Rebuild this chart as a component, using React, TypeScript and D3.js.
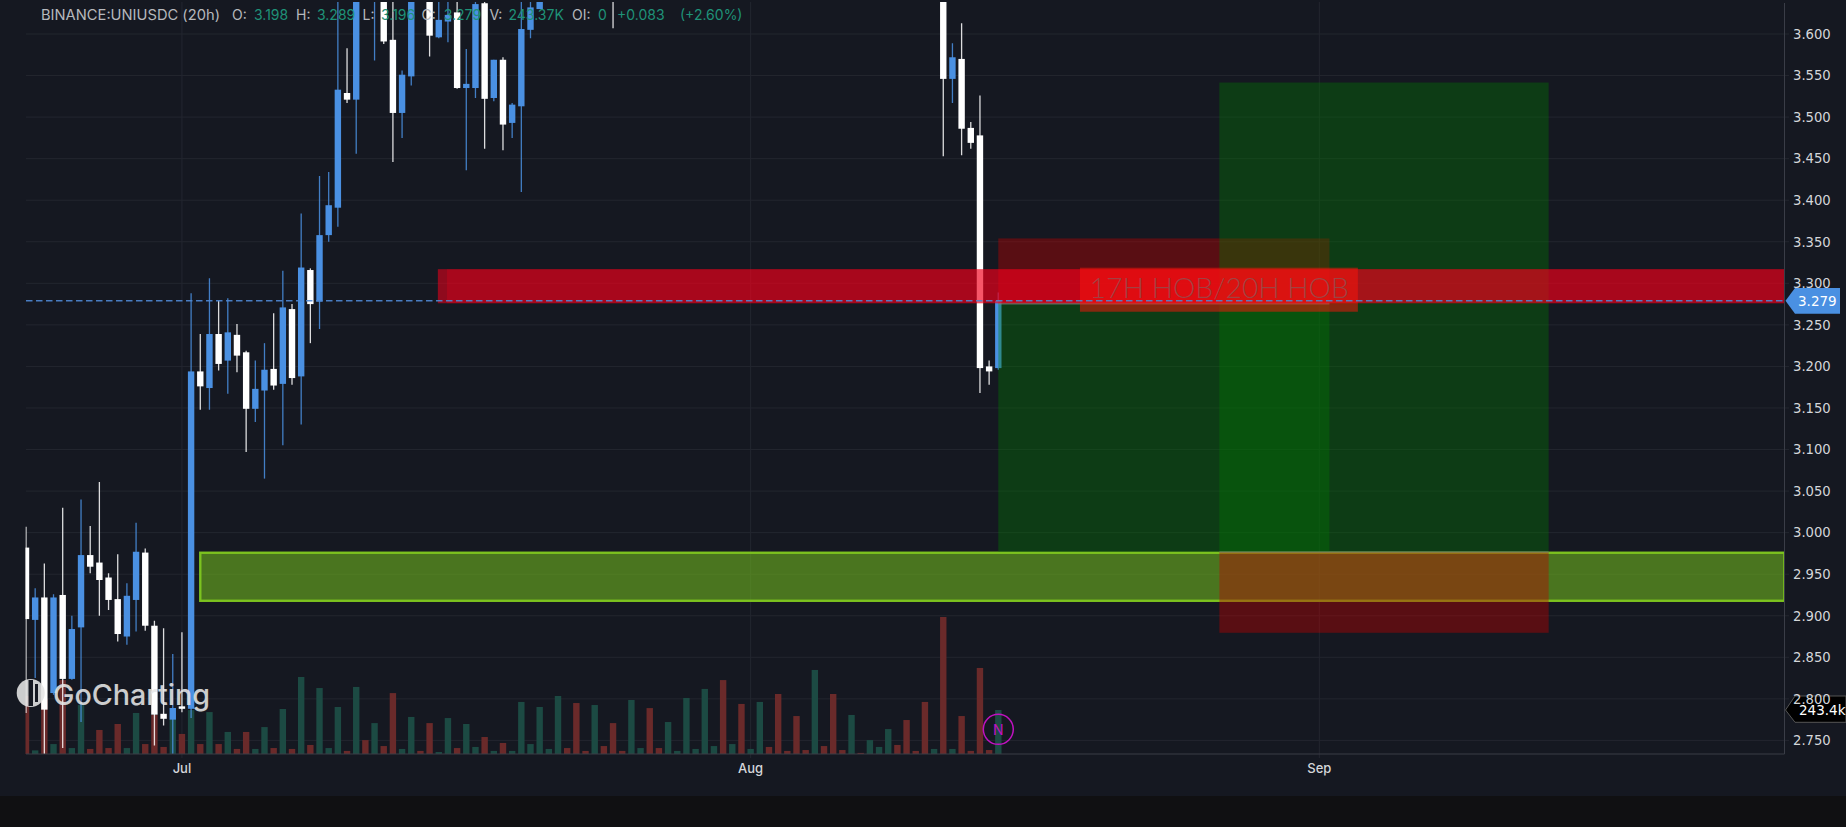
import React from 'react';
import * as d3 from 'd3';

const N = null;
const opens = [2.982,2.895,2.922,2.807,2.925,2.824,2.886,2.973,2.964,2.946,2.920,2.875,2.919,2.976,2.888,2.782,2.775,2.791,2.788,3.194,3.174,3.239,3.207,3.238,3.217,3.149,3.171,3.197,3.179,3.269,3.188,3.316,3.278,3.358,3.391,3.529,3.521,N,3.650,3.660,3.593,3.505,3.549,N,3.660,3.596,3.615,3.626,3.535,3.535,3.637,3.523,3.569,3.493,3.513,3.605,3.630,
  N,N,N,N,N,N,N,3.670,N,N,N,N,N,N,N,N,N,N,N,N,N,N,N,N,N,N,N,N,N,N,N,N,N,N,N,N,N,N,N,N,N,N,N,
  3.660,3.546,3.570,3.487,3.478,3.200,3.198];
const highs = [3.007,2.933,2.963,2.926,3.030,2.900,3.040,3.008,3.061,2.951,2.974,2.939,3.012,2.981,2.894,2.885,2.854,2.880,3.288,3.239,3.306,3.279,3.282,3.251,3.219,3.207,3.228,3.264,3.315,3.275,3.384,3.318,3.429,3.434,3.660,3.583,3.680,N,3.700,3.680,3.650,3.556,3.680,N,3.680,3.650,3.650,3.650,3.582,3.650,3.650,3.569,3.572,3.517,3.650,3.650,3.660,
  N,N,N,N,N,N,N,3.680,N,N,N,N,N,N,N,N,N,N,N,N,N,N,N,N,N,N,N,N,N,N,N,N,N,N,N,N,N,N,N,N,N,N,N,
  3.680,3.589,3.613,3.494,3.526,3.207,3.289];
const lows = [2.783,2.825,2.732,2.805,2.741,2.823,2.772,2.951,2.900,2.907,2.869,2.865,2.881,2.882,2.744,2.768,2.732,2.784,2.777,3.148,3.148,3.195,3.167,3.193,3.097,3.133,3.065,3.172,3.105,3.178,3.130,3.228,3.245,3.350,3.368,3.517,3.456,N,3.568,3.588,3.446,3.475,3.538,N,3.573,3.595,3.590,3.534,3.436,3.523,3.462,3.519,3.460,3.475,3.410,3.595,3.630,
  N,N,N,N,N,N,N,3.607,N,N,N,N,N,N,N,N,N,N,N,N,N,N,N,N,N,N,N,N,N,N,N,N,N,N,N,N,N,N,N,N,N,N,N,
  3.453,3.517,3.454,3.462,3.168,3.178,3.196];
const closes = [2.896,2.922,2.787,2.922,2.824,2.884,2.973,2.959,2.943,2.919,2.878,2.924,2.977,2.888,2.781,2.776,2.789,2.788,3.194,3.176,3.239,3.203,3.241,3.213,3.149,3.173,3.196,3.177,3.271,3.186,3.319,3.275,3.358,3.394,3.533,3.521,3.660,N,3.690,3.591,3.505,3.551,3.660,N,3.598,3.617,3.623,3.535,3.540,3.636,3.522,3.569,3.491,3.515,3.606,3.632,3.640,
  N,N,N,N,N,N,N,3.645,N,N,N,N,N,N,N,N,N,N,N,N,N,N,N,N,N,N,N,N,N,N,N,N,N,N,N,N,N,N,N,N,N,N,N,
  3.546,3.572,3.486,3.469,3.198,3.194,3.279];

const volumes = [321,20,304,55,409,33,271,28,133,33,166,33,227,55,216,39,194,111,243,55,232,55,122,28,122,28,149,33,249,28,426,50,365,33,260,17,371,77,171,44,337,28,205,17,171,11,199,33,166,39,94,17,61,17,288,55,260,28,321,33,282,17,271,44,171,17,299,33,254,33,177,17,310,28,360,44,409,55,277,28,288,39,332,17,210,22,465,44,332,22,216,6,77,39,138,50,188,17,288,28,758,28,210,17,476,22,243.4];
const volumeUp = [0,1,0,1,0,1,1,0,0,0,0,1,1,0,0,0,1,0,1,0,1,0,1,0,0,1,1,0,1,0,1,0,1,1,1,0,1,0,1,0,0,1,1,0,0,1,1,0,1,1,0,1,0,1,1,1,1,1,1,0,0,0,1,0,0,0,1,1,0,0,1,1,1,1,1,1,0,1,0,1,1,0,0,0,0,0,1,0,0,0,1,0,1,1,1,0,0,0,0,1,0,1,0,0,0,0,1];

const priceTicks = [3.6,3.55,3.5,3.45,3.4,3.35,3.3,3.25,3.2,3.15,3.1,3.05,3.0,2.95,2.9,2.85,2.8,2.75];
const monthLabels = ['Jul','Aug','Sep'];
const monthIndex = [17,79,141];

const supplyZone = [3.276,3.317];
const demandZone = [2.918,2.9758];
const hobLabel = [3.2658,3.3188];
const longA = {stop:3.354,entry:3.2757,target:2.977};
const longB = {target:3.5416,entry:2.9766,stop:2.8795};

const headerLabels = [['O:',232],['H:',296],['L:',362.6],['C:',421.5],['V:',489.5],['OI:',572]];
const headerValues = [['3.198',254],['3.289',317],['3.196',381],['3.279',443.7],['243.37K',508.5],['0',598],['+0.083',617],['(+2.60%)',680]];

const W = 1846, H = 827;
const L = 25.5, R = 1784.5, T = 2, B = 754;
const x = d3.scaleLinear().domain([0,106]).range([26,998.3]);
const y = d3.scaleLinear().domain([2.75,3.6]).range([740.4,34]);
const vh = d3.scaleLinear().domain([0,800]).range([B,B-144.6]);

const BLUE = '#4a90e2';
const UPV = '#1c4a43', DNV = '#6a2a2a';
const rectP = (i0:number,i1:number,p0:number,p1:number)=>({x:x(i0),width:x(i1)-x(i0),y:y(p1),height:y(p0)-y(p1)});

export default function App(){
  const ink = '#d4d6da';
  const mono = '"DejaVu Sans"';
  const head = 'Inter, "Noto Sans", sans-serif';
  const greenF='rgba(0,125,0,0.36)', redF='rgba(193,0,0,0.4)';
  const last = closes[closes.length-1] as number;
  return (
    <svg width={W} height={H} viewBox={`0 0 ${W} ${H}`} style={{position:'absolute',left:0,top:0,display:'block'}}>
      <defs>
        <clipPath id="plot"><rect x={L} y={T} width={R-L} height={B-T}/></clipPath>
      </defs>
      <rect width={W} height={H} fill="#151821"/>
      <rect y={796} width={W} height={H-796} fill="#101012"/>

      {priceTicks.map(t=><line key={t} x1={26} x2={1789} y1={y(t)} y2={y(t)} stroke="#23262f" strokeWidth={1}/>)}
      {monthIndex.map(i=><line key={i} x1={x(i)} x2={x(i)} y1={T} y2={758} stroke="#23262f" strokeWidth={1}/>)}

      <g clipPath="url(#plot)">
        {volumes.map((v,i)=><rect key={i} x={x(i)-3.2} width={6.4} y={vh(v)} height={B-vh(v)} fill={volumeUp[i]?UPV:DNV}/>)}
        {opens.map((o,i)=>{
          if(o===null) return null;
          const c=closes[i] as number, hi=highs[i] as number, lo=lows[i] as number;
          const col=c>=o?BLUE:'#ffffff';
          const top=y(Math.max(o,c)), bot=y(Math.min(o,c));
          return <g key={i}>
            <line x1={x(i)} x2={x(i)} y1={y(hi)} y2={y(lo)} stroke={col} strokeWidth={1.3} strokeOpacity={0.85}/>
            <rect x={x(i)-3.2} width={6.4} y={top} height={Math.max(bot-top,1.5)} fill={col}/>
          </g>;
        })}

        <rect {...rectP(19,191.7,demandZone[0],demandZone[1])} fill="rgba(110,180,30,0.6)" stroke="#7cc21f" strokeWidth={2.4}/>

        <rect {...rectP(106,142.1,longA.entry,longA.stop)} fill={redF}/>
        <rect {...rectP(106,142.1,longA.target,longA.entry)} fill={greenF}/>
        <rect {...rectP(130.1,166,longB.entry,longB.target)} fill={greenF}/>
        <rect {...rectP(130.1,166,longB.stop,longB.entry)} fill={redF}/>
        <line x1={x(106)} x2={x(142.1)} y1={y(longA.entry)} y2={y(longA.entry)} stroke="rgba(130,130,130,0.7)" strokeWidth={2}/>
        <line x1={x(130.1)} x2={x(166)} y1={y(longB.entry)} y2={y(longB.entry)} stroke="rgba(130,130,130,0.6)" strokeWidth={1.5}/>

        <rect {...rectP(44.9,191.7,supplyZone[0],supplyZone[1])} fill="rgba(244,0,28,0.55)"/>
        <rect {...rectP(45.9,191.7,supplyZone[0],supplyZone[1])} fill="rgba(244,0,28,0.25)"/>

        <rect {...rectP(114.9,145.2,hobLabel[0],hobLabel[1])} fill="rgba(255,20,10,0.5)"/>
        <text x={x(130.1)} y={298} textAnchor="middle" fontFamily="Lato, Inter, sans-serif" fontWeight={300} fontSize={27} textLength={259} lengthAdjust="spacingAndGlyphs" fill="rgba(110,110,110,0.55)">17H HOB/20H HOB</text>

        <line x1={26} x2={R} y1={y(last)} y2={y(last)} stroke="#4f88d4" strokeOpacity={0.9} strokeWidth={1.6} strokeDasharray="6.5 3.5"/>

        <circle cx={x(106)} cy={729.3} r={15} fill="none" stroke="#c012c0" strokeWidth={1.5}/>
        <text x={x(106)} y={734.5} textAnchor="middle" fontFamily={head} fontSize={14} fill="#c012c0">N</text>
      </g>

      <line x1={R} x2={R} y1={3} y2={B} stroke="#3a3d47" strokeWidth={1}/>
      <line x1={26} x2={R} y1={B} y2={B} stroke="#3a3d47" strokeWidth={1}/>

      <path d="M1785.5,710 L1795,696 L1846,696 L1846,722.3 L1795,722.3 Z" fill="#000" stroke="#555" strokeWidth={1}/>
      <text x={1799} y={714.5} fontFamily={mono} fontSize={13.5} fill="#ffffff">243.4k</text>

      {priceTicks.map(t=><text key={t} x={1793} y={y(t)+4.8} fontFamily={mono} fontSize={13.2} fill={ink}>{t.toFixed(3)}</text>)}

      {monthLabels.map((m,i)=><text key={m} x={x(monthIndex[i])} y={773} textAnchor="middle" fontFamily={head} fontSize={13} fontWeight={500} fill={ink}>{m}</text>)}

      <path d={`M${R+1},${y(last)} L1795,288 L1840,288 L1840,313.7 L1795,313.7 Z`} fill={BLUE}/>
      <text x={1798} y={305.5} fontFamily={mono} fontSize={13.5} fill="#ffffff">{last.toFixed(3)}</text>

      <g fontFamily={head} fontSize={14}>
        <text x={41} y={20} fill="#b5b8bd" textLength={179} lengthAdjust="spacingAndGlyphs">BINANCE:UNIUSDC (20h)</text>
        {headerLabels.map(([t,px])=><text key={t as string} x={px as number} y={20} fill="#b5b8bd">{t}</text>)}
        {headerValues.map(([t,px])=><text key={t as string} x={px as number} y={20} fill="#1f9278">{t}</text>)}
      </g>

      <g opacity={0.88}>
        <circle cx={30.7} cy={693} r={14} fill="#e6e6e6"/>
        <rect x={28.5} y={680} width={4.5} height={26} fill="#151821"/>
        <rect x={35} y={684} width={3} height={18} fill="#151821"/>
        <text x={53} y={705} fontFamily="Inter, Lato, sans-serif" fontWeight={500} fontSize={29} textLength={157} lengthAdjust="spacingAndGlyphs" fill="#e6e6e6">GoCharting</text>
      </g>
    </svg>
  );
}
